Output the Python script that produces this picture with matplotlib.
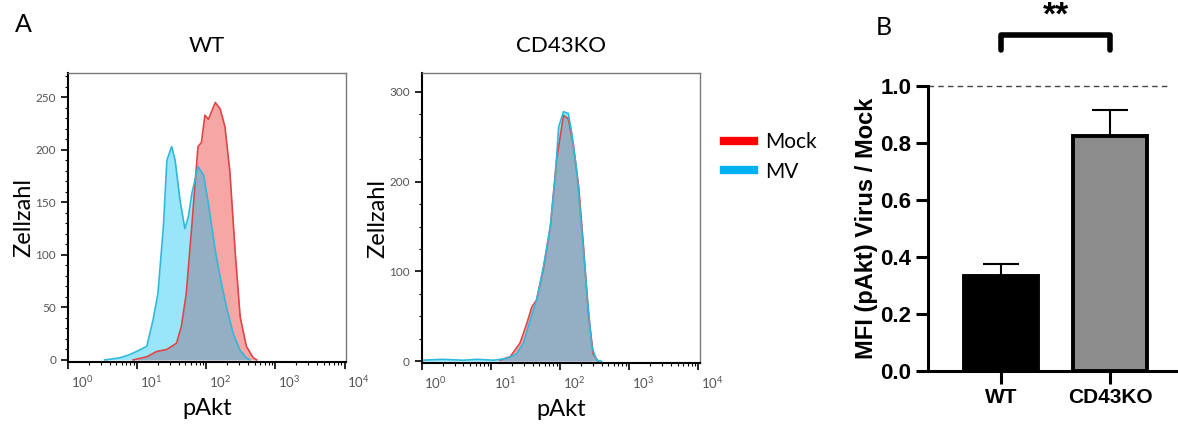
import numpy as np
import matplotlib
matplotlib.use("Agg")
import matplotlib.pyplot as plt
from matplotlib.ticker import MultipleLocator, LogLocator
from matplotlib.transforms import ScaledTranslation
from matplotlib.lines import Line2D

# ---- data (x as log10 of pAkt, y = cell count) ----
wt_mv_logx = [0.53, 0.75, 0.89, 0.99, 1.14, 1.23, 1.30, 1.38, 1.43, 1.50, 1.55, 1.62, 1.69,
              1.74, 1.79, 1.88, 1.96, 2.03, 2.13, 2.20, 2.29, 2.39, 2.49, 2.58, 2.63]
wt_mv_count = [0, 2, 5, 8, 13, 38, 63, 127, 190, 203, 190, 152, 125,
               136, 158, 184, 176, 149, 104, 79, 51, 25, 9, 2, 0]

wt_mock_logx = [0.94, 1.14, 1.28, 1.43, 1.57, 1.64, 1.71, 1.79, 1.88, 1.93, 1.98, 2.03, 2.08,
                2.13, 2.20, 2.27, 2.34, 2.42, 2.49, 2.58, 2.68, 2.73]
wt_mock_count = [0, 3, 8, 10, 16, 32, 63, 127, 203, 207, 233, 229, 237,
                 245, 239, 222, 180, 101, 41, 13, 2, 0]

ko_mv_logx = [0.0, 0.3, 0.6, 0.8, 1.04, 1.23, 1.37, 1.47, 1.57, 1.66, 1.76, 1.86, 1.93,
              1.98, 2.05, 2.12, 2.17, 2.24, 2.31, 2.39, 2.46, 2.53, 2.60]
ko_mv_count = [1, 2, 1, 2, 1, 3, 8, 20, 46, 68, 105, 150, 205,
               261, 278, 276, 254, 213, 150, 75, 16, 1, 0]

ko_mock_logx = [1.13, 1.28, 1.42, 1.52, 1.59, 1.66, 1.76, 1.86, 1.95, 2.05, 2.12, 2.19,
                2.27, 2.34, 2.41, 2.48, 2.55]
ko_mock_count = [1, 5, 20, 42, 60, 68, 103, 150, 224, 274, 270, 242,
                 194, 127, 53, 8, 0]

groups = ["WT", "CD43KO"]
mfi_ratio = [0.335, 0.825]
mfi_sem = [0.04, 0.09]

RED_FILL = (0.94, 0.31, 0.31, 0.5)
RED_LINE = "#e04545"
BLUE_FILL = (0.0, 0.75, 0.94, 0.4)
BLUE_LINE = "#30b8dc"

plt.rcParams['font.family'] = ['Lato', 'DejaVu Sans']

fig = plt.figure(figsize=(11.78, 4.30), dpi=100)


def histo(ax, mock_x, mock_y, mv_x, mv_y, ymax, ymajor, yminor, title):
    mx = 10 ** np.array(mock_x)
    vx = 10 ** np.array(mv_x)
    ax.fill_between(mx, mock_y, 0, color=RED_FILL, lw=0)
    ax.plot(mx, mock_y, color=RED_LINE, lw=1.2)
    ax.fill_between(vx, mv_y, 0, color=BLUE_FILL, lw=0)
    ax.plot(vx, mv_y, color=BLUE_LINE, lw=1.2)
    ax.set_xscale("log")
    ax.set_xlim(1, 10 ** 4.02)
    ax.set_ylim(-2, ymax)
    ax.yaxis.set_major_locator(MultipleLocator(ymajor))
    ax.yaxis.set_minor_locator(MultipleLocator(yminor))
    ax.xaxis.set_major_locator(LogLocator(base=10, numticks=10))
    ax.xaxis.set_minor_locator(LogLocator(base=10, subs=np.arange(2, 10), numticks=50))
    ax.tick_params(axis="both", which="major", length=5, width=1.2, labelcolor="#555555",
                   direction="out")
    ax.tick_params(axis="x", which="major", labelsize=9.5)
    ax.tick_params(axis="y", which="major", labelsize=8.5)
    ax.tick_params(axis="both", which="minor", length=2.5, width=0.8, direction="out")
    for lab in ax.get_xticklabels():
        lab.set_transform(lab.get_transform() + ScaledTranslation(0.14, 0, fig.dpi_scale_trans))
    for s in ("top", "right"):
        ax.spines[s].set_color("#777777")
        ax.spines[s].set_linewidth(1.0)
    for s in ("left", "bottom"):
        ax.spines[s].set_color("black")
        ax.spines[s].set_linewidth(1.5)
    ax.set_ylabel("Zellzahl", fontsize=17, labelpad=1)
    ax.set_xlabel("pAkt", fontsize=17, labelpad=6)
    ax.set_title(title, fontsize=16, pad=15)


ax1 = fig.add_axes([0.0577, 0.158, 0.236, 0.672])
histo(ax1, wt_mock_logx, wt_mock_count, wt_mv_logx, wt_mv_count, 273, 50, 10, "WT")

ax2 = fig.add_axes([0.358, 0.156, 0.236, 0.674])
histo(ax2, ko_mock_logx, ko_mock_count, ko_mv_logx, ko_mv_count, 321, 100, 25, "CD43KO")

# legend
handles = [Line2D([0], [0], color="#ff0000", lw=6), Line2D([0], [0], color="#00b0f0", lw=6)]
fig.legend(handles, ["Mock", "MV"], loc="center left", bbox_to_anchor=(0.599, 0.635),
           frameon=False, fontsize=15, handlelength=1.4, handletextpad=0.55, labelspacing=0.45)

fig.text(0.013, 0.942, "A", fontsize=18, va="center")
fig.text(0.743, 0.937, "B", fontsize=18, va="center")

# ---- panel B ----
axb = fig.add_axes([0.788, 0.137, 0.212, 0.663])
xpos = np.arange(len(groups))
axb.bar(xpos, mfi_ratio, width=0.68, color=["black", "#8c8c8c"], edgecolor="black",
        linewidth=2.8, zorder=2)
axb.errorbar(xpos, mfi_ratio, yerr=[[0, 0], mfi_sem], fmt="none", ecolor="black",
             elinewidth=1.5, capsize=13, capthick=1.5, zorder=1)
axb.axhline(1.0, xmin=0, xmax=0.96, color="#444444", lw=1, ls=(0, (4, 3)), clip_on=False)
axb.set_xlim(-0.67, 1.62)
axb.set_ylim(0, 1.0)
axb.set_yticks([0.0, 0.2, 0.4, 0.6, 0.8, 1.0])
axb.set_yticklabels(["0.0", "0.2", "0.4", "0.6", "0.8", "1.0"])
axb.set_xticks(xpos)
axb.set_xticklabels(groups)
for lab in axb.get_yticklabels():
    lab.set_fontfamily("Liberation Sans")
    lab.set_fontweight("bold")
    lab.set_fontsize(16)
for lab in axb.get_xticklabels():
    lab.set_fontfamily("Liberation Sans")
    lab.set_fontweight("bold")
    lab.set_fontsize(15)
axb.tick_params(axis="both", length=9, width=2.2, pad=3)
for s in ("top", "right"):
    axb.spines[s].set_visible(False)
for s in ("left", "bottom"):
    axb.spines[s].set_linewidth(2.2)
axb.set_ylabel("MFI (pAkt) Virus / Mock", fontsize=17, fontweight="bold",
               fontfamily="Liberation Sans", labelpad=2)

# significance bracket
by = 1.178
axb.plot([0, 0, 1, 1], [by - 0.052, by, by, by - 0.052], color="black", lw=4,
         solid_capstyle="round", clip_on=False)
axb.text(0.5, 1.245, "**", ha="center", va="center", fontsize=24, fontweight="bold",
         fontfamily="Liberation Sans")

fig.savefig("out.png", dpi=100)
